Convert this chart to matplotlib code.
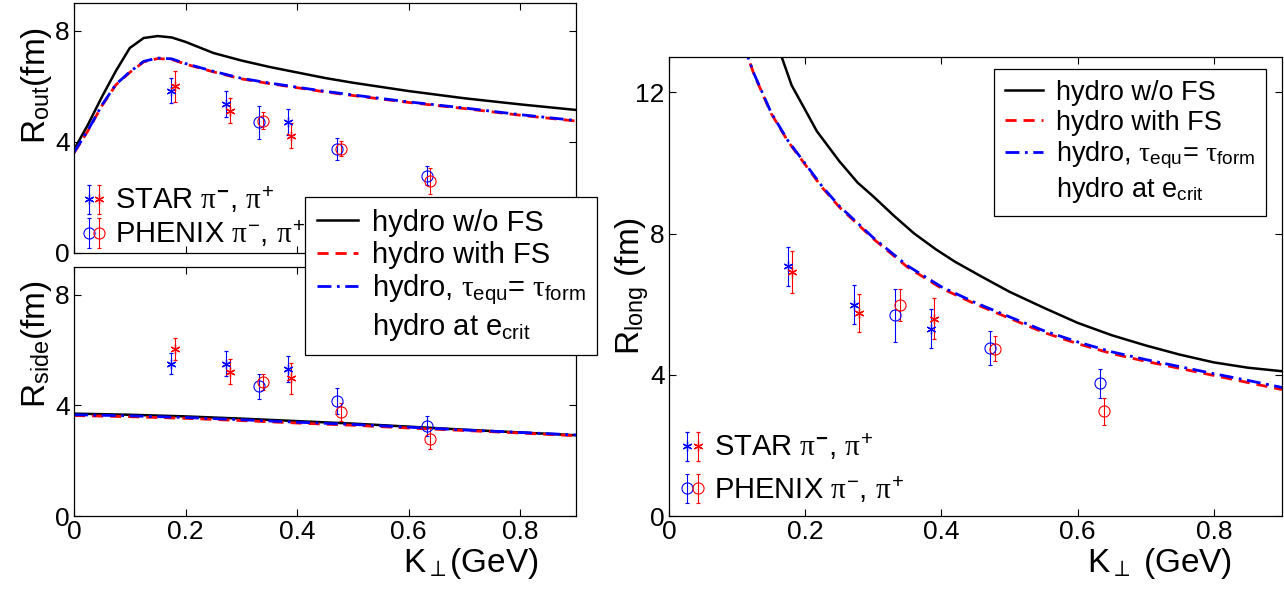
import numpy as np
import matplotlib
matplotlib.use('Agg')
import matplotlib.pyplot as plt
from matplotlib.lines import Line2D
from matplotlib.legend_handler import HandlerTuple

plt.rcParams['font.family'] = ['Liberation Sans', 'DejaVu Sans']
plt.rcParams['mathtext.fontset'] = 'custom'
plt.rcParams['mathtext.rm'] = 'Liberation Sans'
plt.rcParams['mathtext.it'] = 'Liberation Serif'
plt.rcParams['mathtext.bf'] = 'Liberation Sans:bold'

# -------------------------
# hydro curves
# -------------------------
k_out = [0, 0.025, 0.05, 0.075, 0.1, 0.125, 0.15, 0.175, 0.2, 0.25, 0.3,
         0.35, 0.4, 0.45, 0.5, 0.6, 0.7, 0.8, 0.9]
rout_nofs = [3.72, 4.62, 5.62, 6.55, 7.38, 7.74, 7.81, 7.76, 7.6, 7.2, 6.93,
             6.7, 6.5, 6.3, 6.13, 5.83, 5.57, 5.35, 5.15]
rout_fs = [3.6, 4.4, 5.3, 6.05, 6.5, 6.88, 7.0, 6.97, 6.8, 6.52, 6.27,
           6.1, 5.95, 5.8, 5.67, 5.42, 5.2, 4.96, 4.75]
rout_tau = [3.62, 4.42, 5.32, 6.07, 6.52, 6.9, 7.02, 6.99, 6.82, 6.54, 6.29,
            6.12, 5.97, 5.82, 5.69, 5.44, 5.22, 4.98, 4.77]

k_side = [0, 0.1, 0.2, 0.3, 0.4, 0.5, 0.6, 0.7, 0.8, 0.9]
rside_nofs = [3.7, 3.66, 3.6, 3.52, 3.43, 3.34, 3.23, 3.12, 3.02, 2.92]
rside_fs = [3.63, 3.59, 3.53, 3.45, 3.36, 3.28, 3.18, 3.09, 3.0, 2.9]
rside_tau = [3.66, 3.62, 3.56, 3.48, 3.39, 3.31, 3.21, 3.11, 3.02, 2.93]

k_long_nofs = [0.16, 0.18, 0.2, 0.217, 0.25, 0.277, 0.3, 0.331, 0.36, 0.392,
               0.42, 0.458, 0.5, 0.55, 0.6, 0.65, 0.7, 0.75, 0.8, 0.85, 0.9]
rlong_nofs = [13.3, 12.2, 11.5, 10.9, 10.05, 9.44, 9.05, 8.49, 8.0, 7.55,
              7.2, 6.79, 6.35, 5.9, 5.47, 5.12, 4.83, 4.57, 4.35, 4.2, 4.1]
k_long_fs = [0.11, 0.125, 0.15, 0.175, 0.2, 0.225, 0.25, 0.275, 0.3, 0.35,
             0.4, 0.45, 0.5, 0.55, 0.6, 0.65, 0.7, 0.75, 0.8, 0.85, 0.9]
rlong_fs = [13.3, 12.5, 11.4, 10.6, 9.95, 9.3, 8.75, 8.3, 7.85, 7.05,
            6.45, 6.0, 5.6, 5.2, 4.88, 4.6, 4.38, 4.18, 3.98, 3.78, 3.58]
rlong_tau = [13.3, 12.52, 11.42, 10.62, 9.98, 9.33, 8.78, 8.33, 7.88, 7.09,
             6.49, 6.04, 5.64, 5.25, 4.93, 4.65, 4.43, 4.23, 4.03, 3.84, 3.64]

# -------------------------
# data points
# -------------------------
star_k_neg = [0.174, 0.272, 0.384]
star_k_pos = [0.181, 0.279, 0.389]
phenix_k_neg = [0.332, 0.472, 0.633]
phenix_k_pos = [0.339, 0.478, 0.638]

star_out_neg = [5.85, 5.37, 4.71]
star_out_neg_err = [0.45, 0.47, 0.46]
star_out_pos = [6.0, 5.12, 4.22]
star_out_pos_err = [0.55, 0.45, 0.45]
phenix_out_neg = [4.7, 3.74, 2.79]
phenix_out_neg_err = [0.59, 0.4, 0.35]
phenix_out_pos = [4.77, 3.75, 2.58]
phenix_out_pos_err = [0.32, 0.27, 0.47]

star_side_neg = [5.51, 5.51, 5.32]
star_side_neg_err = [0.38, 0.45, 0.47]
star_side_pos = [6.04, 5.22, 4.98]
star_side_pos_err = [0.4, 0.45, 0.56]
phenix_side_neg = [4.69, 4.15, 3.25]
phenix_side_neg_err = [0.46, 0.48, 0.36]
phenix_side_pos = [4.85, 3.77, 2.8]
phenix_side_pos_err = [0.29, 0.33, 0.39]

star_long_neg = [7.07, 5.98, 5.31]
star_long_neg_err = [0.56, 0.55, 0.55]
star_long_pos = [6.91, 5.75, 5.59]
star_long_pos_err = [0.59, 0.54, 0.58]
phenix_long_neg = [5.68, 4.76, 3.76]
phenix_long_neg_err = [0.76, 0.49, 0.41]
phenix_long_pos = [5.98, 4.74, 2.97]
phenix_long_pos_err = [0.46, 0.35, 0.38]

data_labels = [r'STAR $\pi^{\mathbf{-}}$, $\pi^{+}$', r'PHENIX $\pi^{-}$, $\pi^{+}$']
hydro_labels = ['hydro w/o FS', 'hydro with FS',
                r'hydro, $\tau_{\mathrm{equ}}$= $\tau_{\mathrm{form}}$',
                r'hydro at e$_{\mathrm{crit}}$']

# -------------------------
# Figure layout
# -------------------------
W, H = 1284, 595
fig = plt.figure(figsize=(W / 100, H / 100), dpi=100)
ax1 = fig.add_axes([74 / W, 1 - 253 / H, 502 / W, 250 / H])
ax2 = fig.add_axes([74 / W, 1 - 516 / H, 502 / W, 249 / H])
ax3 = fig.add_axes([669 / W, 1 - 516 / H, 613 / W, 459 / H])

fs = 19      # tick labels
lfs = 24     # axis labels
gfs = 21     # legend text
lw_k = 1.8
lw_c = 2.0
dash_r = (4, 2.5)
dash_b = (5, 2, 1, 2)
asterisk = (6, 2, 0)
eb = dict(elinewidth=0.8, capsize=1.5, capthick=0.8, linestyle='none')


def draw_points(ax, sn, sne, sp, spe, pn, pne, pp, ppe):
    h1 = ax.errorbar(star_k_neg, sn, yerr=sne, color='b', marker=asterisk,
                     markersize=7, markeredgewidth=0.9, **eb)
    h2 = ax.errorbar(star_k_pos, sp, yerr=spe, color='r', marker=asterisk,
                     markersize=7, markeredgewidth=0.9, **eb)
    h3 = ax.errorbar(phenix_k_neg, pn, yerr=pne, color='b', marker='o',
                     markersize=8, mfc='none', markeredgewidth=0.8, **eb)
    h4 = ax.errorbar(phenix_k_pos, pp, yerr=ppe, color='r', marker='o',
                     markersize=8, mfc='none', markeredgewidth=0.8, **eb)
    return h1, h2, h3, h4


def style(ax, ymax, yticks):
    ax.set_xlim(0, 0.9)
    ax.set_ylim(0, ymax)
    ax.set_xticks([0, 0.2, 0.4, 0.6, 0.8])
    ax.set_xticklabels(['0', '0.2', '0.4', '0.6', '0.8'])
    ax.set_yticks(yticks)
    ax.tick_params(direction='in', top=True, right=True, labelsize=fs,
                   length=5, width=0.8, pad=3)
    for s in ax.spines.values():
        s.set_linewidth(0.9)


def curves(ax, k1, y1, k2, y2, y3):
    a, = ax.plot(k1, y1, 'k-', linewidth=lw_k)
    b, = ax.plot(k2, y2, 'r--', linewidth=lw_c, dashes=dash_r)
    c, = ax.plot(k2, y3, 'b-.', linewidth=lw_c, dashes=dash_b)
    return a, b, c


# R_out
l1, l2, l3 = curves(ax1, k_out, rout_nofs, k_out, rout_fs, rout_tau)
hs = draw_points(ax1, star_out_neg, star_out_neg_err, star_out_pos, star_out_pos_err,
                 phenix_out_neg, phenix_out_neg_err, phenix_out_pos, phenix_out_pos_err)
style(ax1, 9, [0, 4, 8])
ax1.tick_params(labelbottom=False)
ax1.set_ylabel(r'R$_{\mathrm{out}}$(fm)', fontsize=lfs)
ax1.yaxis.set_label_coords(-0.04, 0.67)

dkw = dict(handler_map={tuple: HandlerTuple(ndivide=None, pad=0.0)},
           loc='lower left', frameon=False, fontsize=gfs, handlelength=0.75,
           handletextpad=0.35, borderpad=0, borderaxespad=0)
ax1.legend([(hs[0], hs[1]), (hs[2], hs[3])], data_labels,
           bbox_to_anchor=(0.018, 0.015), labelspacing=0.12, **dkw)

# R_side
curves(ax2, k_side, rside_nofs, k_side, rside_fs, rside_tau)
draw_points(ax2, star_side_neg, star_side_neg_err, star_side_pos, star_side_pos_err,
            phenix_side_neg, phenix_side_neg_err, phenix_side_pos, phenix_side_pos_err)
style(ax2, 9, [0, 4, 8])
ax2.set_ylabel(r'R$_{\mathrm{side}}$(fm)', fontsize=lfs)
ax2.yaxis.set_label_coords(-0.04, 0.69)
ax2.set_xlabel(r'K$_{\perp}$(GeV)', fontsize=lfs)
ax2.xaxis.set_label_coords(0.79, -0.12)

# R_long
curves(ax3, k_long_nofs, rlong_nofs, k_long_fs, rlong_fs, rlong_tau)
hs3 = draw_points(ax3, star_long_neg, star_long_neg_err, star_long_pos, star_long_pos_err,
                  phenix_long_neg, phenix_long_neg_err, phenix_long_pos, phenix_long_pos_err)
style(ax3, 13, [0, 4, 8, 12])
ax3.set_ylabel(r'R$_{\mathrm{long}}$ (fm)', fontsize=lfs)
ax3.yaxis.set_label_coords(-0.03, 0.5)
ax3.set_xlabel(r'K$_{\perp}$ (GeV)', fontsize=lfs)
ax3.xaxis.set_label_coords(0.80, -0.065)
dleg3 = ax3.legend([(hs3[0], hs3[1]), (hs3[2], hs3[3])], data_labels,
                   bbox_to_anchor=(0.021, 0.025), labelspacing=0.4, **dkw)
ax3.add_artist(dleg3)

# hydro legends
blank = Line2D([], [], linestyle='none')
leg_kw = dict(handlelength=1.4, handletextpad=0.5, labelspacing=0.14,
              borderpad=0.4, fancybox=False, edgecolor='k', framealpha=1,
              borderaxespad=0)
lg = fig.legend([l1, l2, l3, blank], hydro_labels, loc='upper left',
                bbox_to_anchor=(305 / W, 1 - 197 / H), fontsize=gfs, **leg_kw)
lg.get_frame().set_linewidth(0.9)
lg2 = ax3.legend([l1, l2, l3, blank], hydro_labels, loc='upper left',
                 bbox_to_anchor=((994 - 669) / 613, (516 - 69) / 459),
                 fontsize=gfs - 1.5, **leg_kw)
lg2.get_frame().set_linewidth(0.9)

fig.savefig('out.png', dpi=100)
